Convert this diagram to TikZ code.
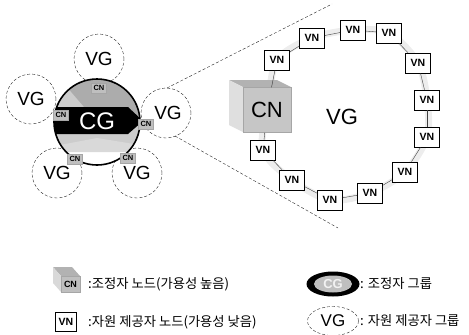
\documentclass[tikz,border=0pt]{standalone}
\usepackage{fontspec}
\setmainfont{Liberation Sans}
\newfontfamily\kr{Noto Sans CJK KR}
\usetikzlibrary{shapes.geometric}
\begin{document}
\begin{tikzpicture}[x=1pt,y=-1pt,
  vg/.style={circle, draw=black!85, densely dashed, thin, fill=white, minimum size=50pt, inner sep=0pt, font=\fontsize{19}{19}\selectfont},
  smallcn/.style={draw=gray!70, fill=gray!50, minimum width=15pt, minimum height=10pt, inner sep=0pt, font=\fontsize{7.5}{7.5}\selectfont\bfseries},
  vn/.style={draw=black, semithick, fill=white, minimum width=25pt, minimum height=20pt, inner sep=0pt, font=\fontsize{10.5}{10.5}\selectfont\bfseries},
  ringline/.style={draw=black!75, thin},
  zoomline/.style={densely dashed, thin, black!85},
  legtext/.style={anchor=west, inner sep=0pt, font=\kr\fontsize{13.3}{14}\selectfont}
]
\useasboundingbox (0,0) rectangle (469,335);

% ---------------- left cluster ----------------
\node[vg] (vgt) at (99,59) {VG};
\node[vg] (vgl) at (31,99) {VG};
\node[vg] (vgr) at (166,113) {\hspace*{4pt}VG};
\node[vg] (vgbl) at (57,173) {VG};
\node[vg] (vgbr) at (137,173) {VG};

\node[circle, minimum size=86pt, inner sep=0pt, fill=gray!40] (cg) at (97,122) {};
\begin{scope}
  \clip (97,122) circle (43pt);
  \fill[gray!65] (97,122) -- (60,79) -- (150,79) -- (150,122) -- cycle;
  \fill[white] (60,145) -- (140,145) -- (140,170) -- (60,170) -- cycle;
  \fill[gray!30] (60,145) -- (97,138) -- (140,145) -- (140,152) -- (60,152) -- cycle;
  \fill[black] (50,107) -- (128,107) -- (143,121) -- (128,134) -- (50,134) -- cycle;
\end{scope}
\draw[black, line width=1.6pt] (cg.center) circle (43pt);
\node[text=white, font=\fontsize{24}{24}\selectfont] at (97,121) {CG};

\node[smallcn] (cnt) at (99,88) {CN};
\node[smallcn] (cnl) at (61,115) {CN};
\node[smallcn] (cnr) at (146,124) {CN};
\node[smallcn] (cnbl) at (75,159) {CN};
\node[smallcn] (cnbr) at (128,158) {CN};

% zoom lines
\coordinate (zt) at (332,4);
\coordinate (zb) at (338,228);
\coordinate (zt0) at (167,88);
\coordinate (zb0) at (175,136);
\draw[zoomline] (zt0) -- (zt);
\draw[zoomline] (zb0) -- (zb);

% ---------------- big VG ----------------
\draw[gray!14, line width=7pt] plot[smooth cycle] coordinates {(268,105) (277,60) (312,38) (353,30) (389,33) (418,63) (427,100) (427,137) (405,172) (370,193) (330,200) (292,180) (263,150)};

% big CN cuboid
\fill[gray!60] (243,87) -- (229,80) -- (277,80) -- (291,87) -- cycle;
\fill[gray!25] (243,87) -- (229,80) -- (229,125) -- (243,132) -- cycle;
\node[draw=gray!70, fill=gray!45, minimum width=48pt, minimum height=45pt, inner sep=0pt, font=\fontsize{22}{22}\selectfont] (bcn) at (267,110) {CN};

\node[font=\fontsize{22}{22}\selectfont] (bvg) at (342,117) {VG};

\node[vn] (v1) at (277,60) {VN};
\node[vn] (v2) at (312,38) {VN};
\node[vn] (v3) at (353,30) {VN};
\node[vn] (v4) at (389,33) {VN};
\node[vn] (v5) at (418,63) {VN};
\node[vn] (v6) at (427,100) {VN};
\node[vn] (v7) at (427,137) {VN};
\node[vn] (v8) at (405,172) {VN};
\node[vn] (v9) at (370,193) {VN};
\node[vn] (v10) at (330,200) {VN};
\node[vn] (v11) at (292,180) {VN};
\node[vn] (v12) at (263,150) {VN};

\draw[ringline] (bcn) -- (v1);
\draw[ringline] (v1) -- (v2);
\draw[ringline] (v2) -- (v3);
\draw[ringline] (v3) -- (v4);
\draw[ringline] (v4) -- (v5);
\draw[ringline] (v5) -- (v6);
\draw[ringline] (v6) -- (v7);
\draw[ringline] (v7) -- (v8);
\draw[ringline] (v8) -- (v9);
\draw[ringline] (v9) -- (v10);
\draw[ringline] (v10) -- (v11);
\draw[ringline] (v11) -- (v12);
\draw[ringline] (v12) -- (bcn);

% ---------------- legend ----------------
\fill[gray!60] (61,276) -- (53,267) -- (72,267) -- (80,276) -- cycle;
\fill[gray!30] (61,276) -- (53,267) -- (53,283) -- (61,292) -- cycle;
\node[smallcn, minimum width=19pt, minimum height=16pt, font=\fontsize{9}{9}\selectfont\bfseries] (lcn) at (70.5,284) {CN};
\node[legtext] (t1) at (88,284) {:조정자 노드(가용성 높음)};

\node[vn, minimum width=21pt, minimum height=19pt] (lvn) at (66,322) {VN};
\node[legtext] (t2) at (88,322) {:자원 제공자 노드(가용성 낮음)};

\node[ellipse, fill=black, minimum width=53pt, minimum height=25pt, inner sep=0pt] (lcg) at (333,284) {};
\node[ellipse, fill=gray!50, minimum width=38pt, minimum height=17pt, inner sep=0pt, text=gray!10, font=\fontsize{13}{13}\selectfont\bfseries] at (lcg.center) {CG};
\node[legtext] (t3) at (360,284) {: 조정자 그룹};

\node[ellipse, draw=black!85, densely dashed, thin, minimum width=51pt, minimum height=29pt, inner sep=0pt, font=\fontsize{17}{17}\selectfont] (lvg) at (333,321) {VG};
\node[legtext] (t4) at (360,321) {: 자원 제공자 그룹};
\end{tikzpicture}
\end{document}
